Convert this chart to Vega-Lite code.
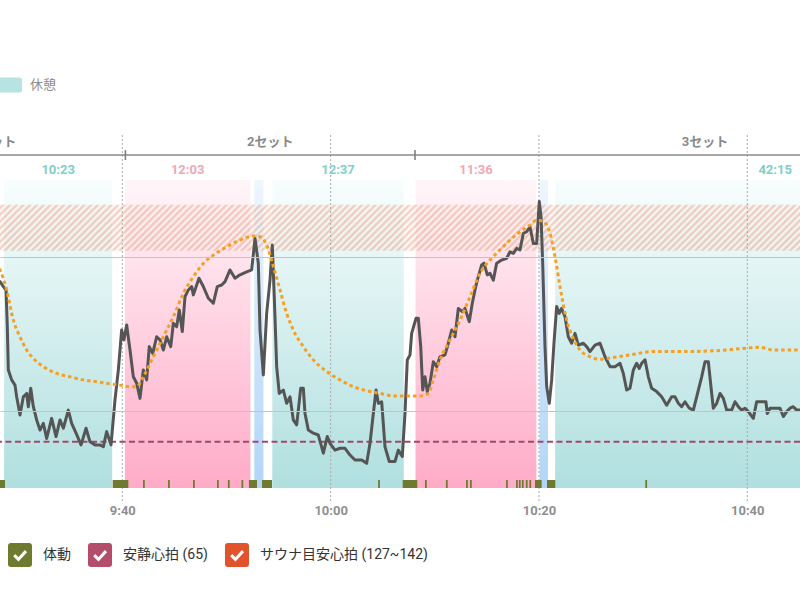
{
"$schema": "https://vega.github.io/schema/vega-lite/v6.json",
"width": 800,
"height": 308,
"autosize": {"type": "none"},
"padding": {"left": 0, "right": 0, "top": 180, "bottom": 112},
"background": "white",
"config": {
  "view": {"stroke": null},
  "font": "Roboto, 'Noto Sans CJK JP', sans-serif",
  "axisX": {"grid": false, "domain": false, "ticks": false, "labelFontSize": 13, "labelColor": "#8f8f8f", "labelFontWeight": "bold", "labelPadding": 16},
  "axisY": {"grid": true, "gridColor": "#c4c4c4", "labels": false, "ticks": false, "domain": false}
},
"datasets": {
  "phases": [
    {"phase": "休憩", "start": 568.65, "end": 579.03, "label": "10:23"},
    {"phase": "サウナ", "start": 580.25, "end": 592.3, "label": "12:03"},
    {"phase": "水風呂", "start": 592.67, "end": 593.55, "label": ""},
    {"phase": "休憩", "start": 594.4, "end": 607.02, "label": "12:37"},
    {"phase": "サウナ", "start": 608.15, "end": 619.75, "label": "11:36"},
    {"phase": "水風呂", "start": 620.05, "end": 620.87, "label": ""},
    {"phase": "休憩", "start": 621.55, "end": 663.8, "label": "42:15"}
  ],
  "sessions": [
    {"set": "1セット", "start": 554.9, "end": 580.3},
    {"set": "2セット", "start": 580.3, "end": 608.1},
    {"set": "3セット", "start": 608.1, "end": 663.8}
  ],
  "ticks": [{"t": 580}, {"t": 600}, {"t": 620}, {"t": 640}],
  "target": [{"lo": 127, "hi": 142}],
  "resting": [{"bpm": 65}],
  "movement": [
    {"start": 567.8, "end": 568.74}, {"start": 579.08, "end": 580.58}, {"start": 581.99, "end": 582.16},
    {"start": 584.39, "end": 584.56}, {"start": 586.79, "end": 586.96}, {"start": 589.09, "end": 589.26},
    {"start": 590.14, "end": 590.31}, {"start": 591.44, "end": 591.61}, {"start": 592.16, "end": 592.93},
    {"start": 593.41, "end": 594.37}, {"start": 604.56, "end": 604.73}, {"start": 606.92, "end": 608.32},
    {"start": 609.06, "end": 609.23}, {"start": 611.07, "end": 611.24}, {"start": 613.0, "end": 613.17},
    {"start": 613.38, "end": 613.55}, {"start": 616.84, "end": 617.01}, {"start": 617.8, "end": 617.97},
    {"start": 618.07, "end": 618.24}, {"start": 618.36, "end": 618.53}, {"start": 618.74, "end": 618.91},
    {"start": 619.08, "end": 619.25}, {"start": 619.62, "end": 620.26}, {"start": 620.77, "end": 621.57},
    {"start": 630.21, "end": 630.38}
  ],
  "hr": [
    {"t":567.9,"bpm":118},{"t":568.26,"bpm":117},{"t":568.58,"bpm":115.4},{"t":568.84,"bpm":114.3},{"t":568.96,"bpm":102.4},
    {"t":569.06,"bpm":88.3},{"t":569.38,"bpm":85.1},{"t":569.7,"bpm":83.4},{"t":569.86,"bpm":79.6},{"t":570.18,"bpm":73.7},
    {"t":570.5,"bpm":79.6},{"t":570.82,"bpm":80.7},{"t":570.98,"bpm":76.4},{"t":571.21,"bpm":82.4},{"t":571.46,"bpm":76.4},
    {"t":571.78,"bpm":72.1},{"t":572.1,"bpm":68.8},{"t":572.42,"bpm":71},{"t":572.74,"bpm":66.1},{"t":573.22,"bpm":72.6},
    {"t":573.64,"bpm":66.7},{"t":574.02,"bpm":72.1},{"t":574.34,"bpm":69.4},{"t":574.82,"bpm":75.3},{"t":575.14,"bpm":71},
    {"t":575.56,"bpm":67.8},{"t":576.04,"bpm":64},{"t":576.52,"bpm":69.4},{"t":576.9,"bpm":65},{"t":577.38,"bpm":64},
    {"t":577.86,"bpm":64},{"t":578.18,"bpm":63.4},{"t":578.5,"bpm":68.3},{"t":578.92,"bpm":64},{"t":579.3,"bpm":78.6},
    {"t":579.62,"bpm":88.3},{"t":579.94,"bpm":101.3},{"t":580.16,"bpm":98.1},{"t":580.42,"bpm":102.9},{"t":580.74,"bpm":94.8},
    {"t":581.06,"bpm":86.1},{"t":581.38,"bpm":84},{"t":581.7,"bpm":79.1},{"t":582.02,"bpm":88.3},{"t":582.34,"bpm":85.1},
    {"t":582.59,"bpm":95.9},{"t":582.92,"bpm":93.7},{"t":583.3,"bpm":99.1},{"t":583.62,"bpm":98.1},{"t":583.94,"bpm":94.8},
    {"t":584.26,"bpm":99.1},{"t":584.65,"bpm":95.9},{"t":584.9,"bpm":103.5},{"t":585.22,"bpm":102.4},{"t":585.47,"bpm":107.8},
    {"t":585.76,"bpm":100.8},{"t":586.02,"bpm":112.1},{"t":586.34,"bpm":114.3},{"t":586.66,"bpm":115.4},{"t":586.82,"bpm":112.7},
    {"t":587.36,"bpm":118.1},{"t":587.78,"bpm":115.4},{"t":588.26,"bpm":111.6},{"t":588.74,"bpm":110},{"t":589.12,"bpm":115.4},
    {"t":589.54,"bpm":115.9},{"t":589.86,"bpm":117},{"t":590.34,"bpm":120.8},{"t":590.82,"bpm":118.1},{"t":591.3,"bpm":119.2},
    {"t":591.94,"bpm":120.2},{"t":592.42,"bpm":120.8},{"t":592.74,"bpm":131.1},{"t":593.06,"bpm":122.9},{"t":593.22,"bpm":101.3},
    {"t":593.54,"bpm":86.7},{"t":593.86,"bpm":106.7},{"t":594.18,"bpm":117.5},{"t":594.4,"bpm":128.9},{"t":594.59,"bpm":112.1},
    {"t":594.82,"bpm":89.4},{"t":595.07,"bpm":80.7},{"t":595.46,"bpm":81.8},{"t":595.78,"bpm":77.5},{"t":596.1,"bpm":79.6},
    {"t":596.42,"bpm":72.1},{"t":596.74,"bpm":70.5},{"t":597.13,"bpm":82.4},{"t":597.38,"bpm":82.4},{"t":597.54,"bpm":74.2},
    {"t":597.86,"bpm":68.8},{"t":598.34,"bpm":67.8},{"t":598.82,"bpm":67.2},{"t":599.3,"bpm":61.3},{"t":599.68,"bpm":66.7},
    {"t":599.94,"bpm":64.5},{"t":600.42,"bpm":62.3},{"t":600.9,"bpm":62.9},{"t":601.38,"bpm":62.9},{"t":601.86,"bpm":60.7},
    {"t":602.34,"bpm":59.1},{"t":602.98,"bpm":59.1},{"t":603.46,"bpm":58},{"t":603.78,"bpm":64.5},{"t":604.1,"bpm":74.2},
    {"t":604.36,"bpm":81.8},{"t":604.58,"bpm":77.5},{"t":604.9,"bpm":78},{"t":605.22,"bpm":63.4},{"t":605.63,"bpm":58.6},
    {"t":606.18,"bpm":58.6},{"t":606.5,"bpm":62.3},{"t":606.88,"bpm":60.2},{"t":607.14,"bpm":74.2},{"t":607.36,"bpm":91.6},
    {"t":607.62,"bpm":93.2},{"t":607.78,"bpm":100.2},{"t":608.2,"bpm":105.1},{"t":608.42,"bpm":105.1},{"t":608.65,"bpm":95.9},
    {"t":608.84,"bpm":81.8},{"t":609.06,"bpm":86.1},{"t":609.28,"bpm":81.3},{"t":609.54,"bpm":84},{"t":609.86,"bpm":91},
    {"t":610.18,"bpm":89.4},{"t":610.5,"bpm":92.6},{"t":610.98,"bpm":93.2},{"t":611.3,"bpm":97},{"t":611.62,"bpm":101.3},
    {"t":611.94,"bpm":99.1},{"t":612.26,"bpm":108.3},{"t":612.68,"bpm":107.2},{"t":612.9,"bpm":108.3},{"t":613.31,"bpm":104},
    {"t":613.6,"bpm":110},{"t":613.86,"bpm":114.3},{"t":614.08,"bpm":117.5},{"t":614.5,"bpm":122.4},{"t":614.72,"bpm":123},
    {"t":615.04,"bpm":119.2},{"t":615.3,"bpm":119.7},{"t":615.62,"bpm":117.5},{"t":615.94,"bpm":123},{"t":616.42,"bpm":124},
    {"t":616.9,"bpm":124.6},{"t":617.22,"bpm":126.7},{"t":617.54,"bpm":126.2},{"t":617.86,"bpm":127.8},{"t":618.18,"bpm":127.3},
    {"t":618.5,"bpm":132.7},{"t":618.82,"bpm":133.2},{"t":619.14,"bpm":134.8},{"t":619.46,"bpm":129.4},{"t":619.78,"bpm":129.4},
    {"t":620.03,"bpm":143},{"t":620.2,"bpm":138.1},{"t":620.36,"bpm":122.9},{"t":620.58,"bpm":95.9},{"t":620.74,"bpm":83},
    {"t":620.99,"bpm":77.5},{"t":621.22,"bpm":85.1},{"t":621.44,"bpm":97},{"t":621.7,"bpm":108.9},{"t":621.95,"bpm":106.7},
    {"t":622.18,"bpm":108.3},{"t":622.5,"bpm":105.6},{"t":622.82,"bpm":99.1},{"t":623.14,"bpm":97},{"t":623.46,"bpm":100.2},
    {"t":623.78,"bpm":96.4},{"t":624.26,"bpm":97},{"t":624.58,"bpm":95.9},{"t":624.9,"bpm":94.3},{"t":625.38,"bpm":96.4},
    {"t":625.86,"bpm":97},{"t":626.34,"bpm":92.6},{"t":626.82,"bpm":89.4},{"t":627.3,"bpm":89.4},{"t":627.78,"bpm":90.5},
    {"t":628.1,"bpm":87.2},{"t":628.42,"bpm":81.8},{"t":628.74,"bpm":82.4},{"t":629.06,"bpm":88.3},{"t":629.38,"bpm":90.5},
    {"t":629.63,"bpm":88.8},{"t":629.86,"bpm":90.5},{"t":630.18,"bpm":91.6},{"t":630.5,"bpm":86.1},{"t":630.82,"bpm":82.4},
    {"t":631.3,"bpm":81.3},{"t":631.78,"bpm":79.6},{"t":632.26,"bpm":76.9},{"t":632.74,"bpm":79.6},{"t":633.06,"bpm":79.6},
    {"t":633.38,"bpm":77.5},{"t":633.7,"bpm":76.4},{"t":634.02,"bpm":78},{"t":634.43,"bpm":75.9},{"t":634.82,"bpm":75.3},
    {"t":635.14,"bpm":79.6},{"t":635.62,"bpm":86.1},{"t":635.94,"bpm":91},{"t":636.26,"bpm":91},{"t":636.58,"bpm":80.7},
    {"t":636.74,"bpm":75.9},{"t":637.06,"bpm":77.5},{"t":637.38,"bpm":80.7},{"t":637.7,"bpm":79.1},{"t":638.02,"bpm":75.3},
    {"t":638.5,"bpm":75.3},{"t":638.82,"bpm":78},{"t":639.14,"bpm":76.4},{"t":639.46,"bpm":75.3},{"t":639.78,"bpm":75.9},
    {"t":640.1,"bpm":74.8},{"t":640.58,"bpm":72.6},{"t":640.9,"bpm":78},{"t":641.38,"bpm":78},{"t":641.79,"bpm":78},
    {"t":641.92,"bpm":74.2},{"t":642.18,"bpm":75.9},{"t":642.66,"bpm":75.9},{"t":643.14,"bpm":75.9},{"t":643.46,"bpm":73.2},
    {"t":643.78,"bpm":74.8},{"t":644.1,"bpm":75.9},{"t":644.42,"bpm":76.4},{"t":644.74,"bpm":75.3},{"t":645.06,"bpm":75.3},
    {"t":645.4,"bpm":75.5}
  ],
  "smooth": [
    {"t":567.9,"bpm":123},{"t":568.26,"bpm":120.8},{"t":568.9,"bpm":114.3},{"t":569.54,"bpm":104.5},{"t":570.18,"bpm":99.1},
    {"t":570.82,"bpm":94.8},{"t":571.46,"bpm":92.1},{"t":572.42,"bpm":89.4},{"t":573.7,"bpm":87.2},{"t":574.98,"bpm":86.1},
    {"t":576.26,"bpm":85.1},{"t":577.54,"bpm":84.5},{"t":578.82,"bpm":83.8},{"t":579.78,"bpm":83.4},{"t":580.74,"bpm":82.9},
    {"t":581.38,"bpm":82.9},{"t":582.02,"bpm":86.1},{"t":582.98,"bpm":92.6},{"t":583.94,"bpm":99.1},{"t":584.9,"bpm":105.6},
    {"t":585.86,"bpm":113.2},{"t":586.82,"bpm":118.6},{"t":587.78,"bpm":122.9},{"t":588.74,"bpm":125.6},{"t":590.02,"bpm":128.3},
    {"t":591.3,"bpm":130.5},{"t":592.58,"bpm":131.8},{"t":593.22,"bpm":131.6},{"t":593.86,"bpm":128.9},{"t":594.5,"bpm":121.9},
    {"t":595.14,"bpm":114.3},{"t":595.78,"bpm":106.7},{"t":596.42,"bpm":101.3},{"t":597.38,"bpm":95.9},{"t":598.34,"bpm":91.6},
    {"t":599.62,"bpm":87.8},{"t":600.9,"bpm":85.1},{"t":602.18,"bpm":82.9},{"t":603.46,"bpm":81.6},{"t":604.74,"bpm":80.7},
    {"t":606.02,"bpm":79.9},{"t":607.3,"bpm":79.9},{"t":608.58,"bpm":79.9},{"t":609.38,"bpm":80.7},{"t":609.86,"bpm":85.1},
    {"t":610.5,"bpm":91.6},{"t":611.46,"bpm":98.1},{"t":612.42,"bpm":104.5},{"t":613.38,"bpm":112.1},{"t":614.34,"bpm":119.7},
    {"t":615.3,"bpm":124},{"t":616.26,"bpm":127.3},{"t":617.22,"bpm":130.5},{"t":618.18,"bpm":133.2},{"t":619.14,"bpm":135.4},
    {"t":619.78,"bpm":137},{"t":620.42,"bpm":136.5},{"t":621.06,"bpm":132.7},{"t":621.54,"bpm":125.1},{"t":622.02,"bpm":115.4},
    {"t":622.66,"bpm":104.5},{"t":623.3,"bpm":98.6},{"t":623.94,"bpm":94.8},{"t":624.74,"bpm":92.9},{"t":625.86,"bpm":91.8},
    {"t":627.14,"bpm":92.4},{"t":628.74,"bpm":93.2},{"t":630.98,"bpm":94.3},{"t":634.18,"bpm":94.3},{"t":637.06,"bpm":94.6},
    {"t":639.94,"bpm":95.4},{"t":641.22,"bpm":95.7},{"t":642.5,"bpm":94.8},{"t":645.06,"bpm":94.8},{"t":645.4,"bpm":94.8}
  ]
},
"layer": [
  {
    "data": {"name": "phases"},
    "transform": [{"filter": "datum.phase === '休憩'"}],
    "mark": {"type": "rect", "clip": true, "fill": {"gradient": "linear", "x1": 0, "y1": 0, "x2": 0, "y2": 1, "stops": [{"offset": 0, "color": "#f8fdfd"}, {"offset": 1, "color": "#b0dfdf"}]}},
    "encoding": {
      "x": {"field": "start", "type": "quantitative", "scale": {"domain": [568.26, 645.06], "nice": false, "zero": false}, "title": null},
      "x2": {"field": "end"}
    }
  },
  {
    "data": {"name": "phases"},
    "transform": [{"filter": "datum.phase === 'サウナ'"}],
    "mark": {"type": "rect", "clip": true, "fill": {"gradient": "linear", "x1": 0, "y1": 0, "x2": 0, "y2": 1, "stops": [{"offset": 0, "color": "#fff6f9"}, {"offset": 1, "color": "#ffabc7"}]}},
    "encoding": {
      "x": {"field": "start", "type": "quantitative", "scale": {"domain": [568.26, 645.06], "nice": false, "zero": false}, "title": null},
      "x2": {"field": "end"}
    }
  },
  {
    "data": {"name": "phases"},
    "transform": [{"filter": "datum.phase === '水風呂'"}],
    "mark": {"type": "rect", "clip": true, "fill": {"gradient": "linear", "x1": 0, "y1": 0, "x2": 0, "y2": 1, "stops": [{"offset": 0, "color": "#eef6fe"}, {"offset": 1, "color": "#b2d5f7"}]}},
    "encoding": {
      "x": {"field": "start", "type": "quantitative", "scale": {"domain": [568.26, 645.06], "nice": false, "zero": false}, "title": null},
      "x2": {"field": "end"}
    }
  },
  {
    "data": {"name": "phases"},
    "transform": [{"filter": "datum.phase === '休憩'"}],
    "mark": {"type": "rect", "clip": true},
    "encoding": {
      "x": {"field": "start", "type": "quantitative", "scale": {"domain": [568.26, 645.06], "nice": false, "zero": false}, "title": null},
      "x2": {"field": "start"},
      "fill": {"datum": "休憩", "scale": {"domain": ["休憩"], "range": ["#b5e4e2"]},
        "legend": {"title": null, "orient": "none", "legendX": -8, "legendY": -110, "direction": "horizontal", "padding": 0,
          "symbolType": "M-0.85,-0.5L0.85,-0.5Q1,-0.5,1,-0.35L1,0.35Q1,0.5,0.85,0.5L-0.85,0.5Q-1,0.5,-1,0.35L-1,-0.35Q-1,-0.5,-0.85,-0.5Z",
          "symbolSize": 900, "symbolStrokeWidth": 0, "symbolOpacity": 1, "labelFontSize": 13, "labelColor": "#8c8c8c", "labelOffset": 8}}
    }
  },
  {
    "data": {"name": "target"},
    "mark": {"type": "rect", "fill": {"gradient": "linear", "x1": 0, "y1": 0, "x2": 1.0542, "y2": 0.0609, "stops": [
      {"offset":0,"color":"rgba(255,255,255,0.45)"},{"offset":0.004,"color":"rgba(226,140,106,0.45)"},{"offset":0.008,"color":"rgba(255,255,255,0.45)"},{"offset":0.012,"color":"rgba(226,140,106,0.45)"},{"offset":0.016,"color":"rgba(255,255,255,0.45)"},{"offset":0.02,"color":"rgba(226,140,106,0.45)"},{"offset":0.024,"color":"rgba(255,255,255,0.45)"},{"offset":0.028,"color":"rgba(226,140,106,0.45)"},{"offset":0.032,"color":"rgba(255,255,255,0.45)"},{"offset":0.036,"color":"rgba(226,140,106,0.45)"},
      {"offset":0.04,"color":"rgba(255,255,255,0.45)"},{"offset":0.044,"color":"rgba(226,140,106,0.45)"},{"offset":0.048,"color":"rgba(255,255,255,0.45)"},{"offset":0.052,"color":"rgba(226,140,106,0.45)"},{"offset":0.056,"color":"rgba(255,255,255,0.45)"},{"offset":0.06,"color":"rgba(226,140,106,0.45)"},{"offset":0.064,"color":"rgba(255,255,255,0.45)"},{"offset":0.068,"color":"rgba(226,140,106,0.45)"},{"offset":0.072,"color":"rgba(255,255,255,0.45)"},{"offset":0.076,"color":"rgba(226,140,106,0.45)"},
      {"offset":0.08,"color":"rgba(255,255,255,0.45)"},{"offset":0.084,"color":"rgba(226,140,106,0.45)"},{"offset":0.088,"color":"rgba(255,255,255,0.45)"},{"offset":0.092,"color":"rgba(226,140,106,0.45)"},{"offset":0.096,"color":"rgba(255,255,255,0.45)"},{"offset":0.1,"color":"rgba(226,140,106,0.45)"},{"offset":0.104,"color":"rgba(255,255,255,0.45)"},{"offset":0.108,"color":"rgba(226,140,106,0.45)"},{"offset":0.112,"color":"rgba(255,255,255,0.45)"},{"offset":0.116,"color":"rgba(226,140,106,0.45)"},
      {"offset":0.12,"color":"rgba(255,255,255,0.45)"},{"offset":0.124,"color":"rgba(226,140,106,0.45)"},{"offset":0.128,"color":"rgba(255,255,255,0.45)"},{"offset":0.132,"color":"rgba(226,140,106,0.45)"},{"offset":0.136,"color":"rgba(255,255,255,0.45)"},{"offset":0.14,"color":"rgba(226,140,106,0.45)"},{"offset":0.144,"color":"rgba(255,255,255,0.45)"},{"offset":0.148,"color":"rgba(226,140,106,0.45)"},{"offset":0.152,"color":"rgba(255,255,255,0.45)"},{"offset":0.156,"color":"rgba(226,140,106,0.45)"},
      {"offset":0.16,"color":"rgba(255,255,255,0.45)"},{"offset":0.164,"color":"rgba(226,140,106,0.45)"},{"offset":0.168,"color":"rgba(255,255,255,0.45)"},{"offset":0.172,"color":"rgba(226,140,106,0.45)"},{"offset":0.176,"color":"rgba(255,255,255,0.45)"},{"offset":0.18,"color":"rgba(226,140,106,0.45)"},{"offset":0.184,"color":"rgba(255,255,255,0.45)"},{"offset":0.188,"color":"rgba(226,140,106,0.45)"},{"offset":0.192,"color":"rgba(255,255,255,0.45)"},{"offset":0.196,"color":"rgba(226,140,106,0.45)"},
      {"offset":0.2,"color":"rgba(255,255,255,0.45)"},{"offset":0.204,"color":"rgba(226,140,106,0.45)"},{"offset":0.208,"color":"rgba(255,255,255,0.45)"},{"offset":0.212,"color":"rgba(226,140,106,0.45)"},{"offset":0.216,"color":"rgba(255,255,255,0.45)"},{"offset":0.22,"color":"rgba(226,140,106,0.45)"},{"offset":0.224,"color":"rgba(255,255,255,0.45)"},{"offset":0.228,"color":"rgba(226,140,106,0.45)"},{"offset":0.232,"color":"rgba(255,255,255,0.45)"},{"offset":0.236,"color":"rgba(226,140,106,0.45)"},
      {"offset":0.24,"color":"rgba(255,255,255,0.45)"},{"offset":0.244,"color":"rgba(226,140,106,0.45)"},{"offset":0.248,"color":"rgba(255,255,255,0.45)"},{"offset":0.252,"color":"rgba(226,140,106,0.45)"},{"offset":0.256,"color":"rgba(255,255,255,0.45)"},{"offset":0.26,"color":"rgba(226,140,106,0.45)"},{"offset":0.264,"color":"rgba(255,255,255,0.45)"},{"offset":0.268,"color":"rgba(226,140,106,0.45)"},{"offset":0.272,"color":"rgba(255,255,255,0.45)"},{"offset":0.276,"color":"rgba(226,140,106,0.45)"},
      {"offset":0.28,"color":"rgba(255,255,255,0.45)"},{"offset":0.284,"color":"rgba(226,140,106,0.45)"},{"offset":0.288,"color":"rgba(255,255,255,0.45)"},{"offset":0.292,"color":"rgba(226,140,106,0.45)"},{"offset":0.296,"color":"rgba(255,255,255,0.45)"},{"offset":0.3,"color":"rgba(226,140,106,0.45)"},{"offset":0.304,"color":"rgba(255,255,255,0.45)"},{"offset":0.308,"color":"rgba(226,140,106,0.45)"},{"offset":0.312,"color":"rgba(255,255,255,0.45)"},{"offset":0.316,"color":"rgba(226,140,106,0.45)"},
      {"offset":0.32,"color":"rgba(255,255,255,0.45)"},{"offset":0.324,"color":"rgba(226,140,106,0.45)"},{"offset":0.328,"color":"rgba(255,255,255,0.45)"},{"offset":0.332,"color":"rgba(226,140,106,0.45)"},{"offset":0.336,"color":"rgba(255,255,255,0.45)"},{"offset":0.34,"color":"rgba(226,140,106,0.45)"},{"offset":0.344,"color":"rgba(255,255,255,0.45)"},{"offset":0.348,"color":"rgba(226,140,106,0.45)"},{"offset":0.352,"color":"rgba(255,255,255,0.45)"},{"offset":0.356,"color":"rgba(226,140,106,0.45)"},
      {"offset":0.36,"color":"rgba(255,255,255,0.45)"},{"offset":0.364,"color":"rgba(226,140,106,0.45)"},{"offset":0.368,"color":"rgba(255,255,255,0.45)"},{"offset":0.372,"color":"rgba(226,140,106,0.45)"},{"offset":0.376,"color":"rgba(255,255,255,0.45)"},{"offset":0.38,"color":"rgba(226,140,106,0.45)"},{"offset":0.384,"color":"rgba(255,255,255,0.45)"},{"offset":0.388,"color":"rgba(226,140,106,0.45)"},{"offset":0.392,"color":"rgba(255,255,255,0.45)"},{"offset":0.396,"color":"rgba(226,140,106,0.45)"},
      {"offset":0.4,"color":"rgba(255,255,255,0.45)"},{"offset":0.404,"color":"rgba(226,140,106,0.45)"},{"offset":0.408,"color":"rgba(255,255,255,0.45)"},{"offset":0.412,"color":"rgba(226,140,106,0.45)"},{"offset":0.416,"color":"rgba(255,255,255,0.45)"},{"offset":0.42,"color":"rgba(226,140,106,0.45)"},{"offset":0.424,"color":"rgba(255,255,255,0.45)"},{"offset":0.428,"color":"rgba(226,140,106,0.45)"},{"offset":0.432,"color":"rgba(255,255,255,0.45)"},{"offset":0.436,"color":"rgba(226,140,106,0.45)"},
      {"offset":0.44,"color":"rgba(255,255,255,0.45)"},{"offset":0.444,"color":"rgba(226,140,106,0.45)"},{"offset":0.448,"color":"rgba(255,255,255,0.45)"},{"offset":0.452,"color":"rgba(226,140,106,0.45)"},{"offset":0.456,"color":"rgba(255,255,255,0.45)"},{"offset":0.46,"color":"rgba(226,140,106,0.45)"},{"offset":0.464,"color":"rgba(255,255,255,0.45)"},{"offset":0.468,"color":"rgba(226,140,106,0.45)"},{"offset":0.472,"color":"rgba(255,255,255,0.45)"},{"offset":0.476,"color":"rgba(226,140,106,0.45)"},
      {"offset":0.48,"color":"rgba(255,255,255,0.45)"},{"offset":0.484,"color":"rgba(226,140,106,0.45)"},{"offset":0.488,"color":"rgba(255,255,255,0.45)"},{"offset":0.492,"color":"rgba(226,140,106,0.45)"},{"offset":0.496,"color":"rgba(255,255,255,0.45)"},{"offset":0.5,"color":"rgba(226,140,106,0.45)"},{"offset":0.504,"color":"rgba(255,255,255,0.45)"},{"offset":0.508,"color":"rgba(226,140,106,0.45)"},{"offset":0.512,"color":"rgba(255,255,255,0.45)"},{"offset":0.516,"color":"rgba(226,140,106,0.45)"},
      {"offset":0.52,"color":"rgba(255,255,255,0.45)"},{"offset":0.524,"color":"rgba(226,140,106,0.45)"},{"offset":0.528,"color":"rgba(255,255,255,0.45)"},{"offset":0.532,"color":"rgba(226,140,106,0.45)"},{"offset":0.536,"color":"rgba(255,255,255,0.45)"},{"offset":0.54,"color":"rgba(226,140,106,0.45)"},{"offset":0.544,"color":"rgba(255,255,255,0.45)"},{"offset":0.548,"color":"rgba(226,140,106,0.45)"},{"offset":0.552,"color":"rgba(255,255,255,0.45)"},{"offset":0.556,"color":"rgba(226,140,106,0.45)"},
      {"offset":0.56,"color":"rgba(255,255,255,0.45)"},{"offset":0.564,"color":"rgba(226,140,106,0.45)"},{"offset":0.568,"color":"rgba(255,255,255,0.45)"},{"offset":0.572,"color":"rgba(226,140,106,0.45)"},{"offset":0.576,"color":"rgba(255,255,255,0.45)"},{"offset":0.58,"color":"rgba(226,140,106,0.45)"},{"offset":0.584,"color":"rgba(255,255,255,0.45)"},{"offset":0.588,"color":"rgba(226,140,106,0.45)"},{"offset":0.592,"color":"rgba(255,255,255,0.45)"},{"offset":0.596,"color":"rgba(226,140,106,0.45)"},
      {"offset":0.6,"color":"rgba(255,255,255,0.45)"},{"offset":0.604,"color":"rgba(226,140,106,0.45)"},{"offset":0.608,"color":"rgba(255,255,255,0.45)"},{"offset":0.612,"color":"rgba(226,140,106,0.45)"},{"offset":0.616,"color":"rgba(255,255,255,0.45)"},{"offset":0.62,"color":"rgba(226,140,106,0.45)"},{"offset":0.624,"color":"rgba(255,255,255,0.45)"},{"offset":0.628,"color":"rgba(226,140,106,0.45)"},{"offset":0.632,"color":"rgba(255,255,255,0.45)"},{"offset":0.636,"color":"rgba(226,140,106,0.45)"},
      {"offset":0.64,"color":"rgba(255,255,255,0.45)"},{"offset":0.644,"color":"rgba(226,140,106,0.45)"},{"offset":0.648,"color":"rgba(255,255,255,0.45)"},{"offset":0.652,"color":"rgba(226,140,106,0.45)"},{"offset":0.656,"color":"rgba(255,255,255,0.45)"},{"offset":0.66,"color":"rgba(226,140,106,0.45)"},{"offset":0.664,"color":"rgba(255,255,255,0.45)"},{"offset":0.668,"color":"rgba(226,140,106,0.45)"},{"offset":0.672,"color":"rgba(255,255,255,0.45)"},{"offset":0.676,"color":"rgba(226,140,106,0.45)"},
      {"offset":0.68,"color":"rgba(255,255,255,0.45)"},{"offset":0.684,"color":"rgba(226,140,106,0.45)"},{"offset":0.688,"color":"rgba(255,255,255,0.45)"},{"offset":0.692,"color":"rgba(226,140,106,0.45)"},{"offset":0.696,"color":"rgba(255,255,255,0.45)"},{"offset":0.7,"color":"rgba(226,140,106,0.45)"},{"offset":0.704,"color":"rgba(255,255,255,0.45)"},{"offset":0.708,"color":"rgba(226,140,106,0.45)"},{"offset":0.712,"color":"rgba(255,255,255,0.45)"},{"offset":0.716,"color":"rgba(226,140,106,0.45)"},
      {"offset":0.72,"color":"rgba(255,255,255,0.45)"},{"offset":0.724,"color":"rgba(226,140,106,0.45)"},{"offset":0.728,"color":"rgba(255,255,255,0.45)"},{"offset":0.732,"color":"rgba(226,140,106,0.45)"},{"offset":0.736,"color":"rgba(255,255,255,0.45)"},{"offset":0.74,"color":"rgba(226,140,106,0.45)"},{"offset":0.744,"color":"rgba(255,255,255,0.45)"},{"offset":0.748,"color":"rgba(226,140,106,0.45)"},{"offset":0.752,"color":"rgba(255,255,255,0.45)"},{"offset":0.756,"color":"rgba(226,140,106,0.45)"},
      {"offset":0.76,"color":"rgba(255,255,255,0.45)"},{"offset":0.764,"color":"rgba(226,140,106,0.45)"},{"offset":0.768,"color":"rgba(255,255,255,0.45)"},{"offset":0.772,"color":"rgba(226,140,106,0.45)"},{"offset":0.776,"color":"rgba(255,255,255,0.45)"},{"offset":0.78,"color":"rgba(226,140,106,0.45)"},{"offset":0.784,"color":"rgba(255,255,255,0.45)"},{"offset":0.788,"color":"rgba(226,140,106,0.45)"},{"offset":0.792,"color":"rgba(255,255,255,0.45)"},{"offset":0.796,"color":"rgba(226,140,106,0.45)"},
      {"offset":0.8,"color":"rgba(255,255,255,0.45)"},{"offset":0.804,"color":"rgba(226,140,106,0.45)"},{"offset":0.808,"color":"rgba(255,255,255,0.45)"},{"offset":0.812,"color":"rgba(226,140,106,0.45)"},{"offset":0.816,"color":"rgba(255,255,255,0.45)"},{"offset":0.82,"color":"rgba(226,140,106,0.45)"},{"offset":0.824,"color":"rgba(255,255,255,0.45)"},{"offset":0.828,"color":"rgba(226,140,106,0.45)"},{"offset":0.832,"color":"rgba(255,255,255,0.45)"},{"offset":0.836,"color":"rgba(226,140,106,0.45)"},
      {"offset":0.84,"color":"rgba(255,255,255,0.45)"},{"offset":0.844,"color":"rgba(226,140,106,0.45)"},{"offset":0.848,"color":"rgba(255,255,255,0.45)"},{"offset":0.852,"color":"rgba(226,140,106,0.45)"},{"offset":0.856,"color":"rgba(255,255,255,0.45)"},{"offset":0.86,"color":"rgba(226,140,106,0.45)"},{"offset":0.864,"color":"rgba(255,255,255,0.45)"},{"offset":0.868,"color":"rgba(226,140,106,0.45)"},{"offset":0.872,"color":"rgba(255,255,255,0.45)"},{"offset":0.876,"color":"rgba(226,140,106,0.45)"},
      {"offset":0.88,"color":"rgba(255,255,255,0.45)"},{"offset":0.884,"color":"rgba(226,140,106,0.45)"},{"offset":0.888,"color":"rgba(255,255,255,0.45)"},{"offset":0.892,"color":"rgba(226,140,106,0.45)"},{"offset":0.896,"color":"rgba(255,255,255,0.45)"},{"offset":0.9,"color":"rgba(226,140,106,0.45)"},{"offset":0.904,"color":"rgba(255,255,255,0.45)"},{"offset":0.908,"color":"rgba(226,140,106,0.45)"},{"offset":0.912,"color":"rgba(255,255,255,0.45)"},{"offset":0.916,"color":"rgba(226,140,106,0.45)"},
      {"offset":0.92,"color":"rgba(255,255,255,0.45)"},{"offset":0.924,"color":"rgba(226,140,106,0.45)"},{"offset":0.928,"color":"rgba(255,255,255,0.45)"},{"offset":0.932,"color":"rgba(226,140,106,0.45)"},{"offset":0.936,"color":"rgba(255,255,255,0.45)"},{"offset":0.94,"color":"rgba(226,140,106,0.45)"},{"offset":0.944,"color":"rgba(255,255,255,0.45)"},{"offset":0.948,"color":"rgba(226,140,106,0.45)"},{"offset":0.952,"color":"rgba(255,255,255,0.45)"},{"offset":0.956,"color":"rgba(226,140,106,0.45)"},
      {"offset":0.96,"color":"rgba(255,255,255,0.45)"},{"offset":0.964,"color":"rgba(226,140,106,0.45)"},{"offset":0.968,"color":"rgba(255,255,255,0.45)"},{"offset":0.972,"color":"rgba(226,140,106,0.45)"},{"offset":0.976,"color":"rgba(255,255,255,0.45)"},{"offset":0.98,"color":"rgba(226,140,106,0.45)"},{"offset":0.984,"color":"rgba(255,255,255,0.45)"},{"offset":0.988,"color":"rgba(226,140,106,0.45)"},{"offset":0.992,"color":"rgba(255,255,255,0.45)"},{"offset":0.996,"color":"rgba(226,140,106,0.45)"},
      {"offset":1,"color":"rgba(255,255,255,0.45)"}
    ]}},
    "encoding": {
      "y": {"field": "lo", "type": "quantitative", "scale": {"domain": [50, 150], "nice": false, "zero": false}, "title": null},
      "y2": {"field": "hi"}
    }
  },
  {
    "data": {"name": "ticks"},
    "mark": {"type": "rule", "color": "#aaaaaa", "strokeWidth": 1, "strokeDash": [2, 2]},
    "encoding": {
      "x": {"field": "t", "type": "quantitative", "scale": {"domain": [568.26, 645.06], "nice": false, "zero": false}, "title": null},
      "y": {"datum": 164.6, "type": "quantitative", "scale": {"domain": [50, 150], "nice": false, "zero": false}, "title": null},
      "y2": {"datum": 45.1}
    }
  },
  {
    "data": {"name": "resting"},
    "mark": {"type": "rule", "color": "#a04a6a", "strokeWidth": 2, "strokeDash": [6, 3.5]},
    "encoding": {
      "y": {"field": "bpm", "type": "quantitative", "scale": {"domain": [50, 150], "nice": false, "zero": false}, "title": null}
    }
  },
  {
    "data": {"name": "movement"},
    "mark": {"type": "rect", "clip": true},
    "encoding": {
      "x": {"field": "start", "type": "quantitative", "scale": {"domain": [568.26, 645.06], "nice": false, "zero": false}, "title": null},
      "x2": {"field": "end"},
      "y": {"datum": 50, "type": "quantitative", "scale": {"domain": [50, 150], "nice": false, "zero": false}, "title": null},
      "y2": {"datum": 52.6},
      "color": {"datum": "体動", "type": "nominal",
        "scale": {"domain": ["体動", "安静心拍 (65)", "サウナ目安心拍 (127~142)"], "range": ["#6e7a30", "#b44c6c", "#e0532b"]},
        "legend": {"title": null, "orient": "none", "legendX": 8, "legendY": 363, "direction": "horizontal", "padding": 0,
          "symbolType": "M-0.75,-1L0.75,-1Q1,-1,1,-0.75L1,0.75Q1,1,0.75,1L-0.75,1Q-1,1,-1,0.75L-1,-0.75Q-1,-1,-0.75,-1ZM-0.571,0.113L-0.126,0.541L0.595,-0.232L0.405,-0.408L-0.134,0.179L-0.389,-0.073Z",
          "symbolSize": 576, "symbolStrokeWidth": 0, "symbolOpacity": 1, "labelFontSize": 14, "labelColor": "#333333", "labelOffset": 11, "columnPadding": 17, "labelLimit": 400}}
    }
  },
  {
    "data": {"name": "hr"},
    "mark": {"type": "line", "clip": true, "color": "#555555", "strokeWidth": 3, "strokeJoin": "round"},
    "encoding": {
      "x": {"field": "t", "type": "quantitative", "scale": {"domain": [568.26, 645.06], "nice": false, "zero": false}, "title": null,
        "axis": {"values": [580, 600, 620, 640], "labelExpr": "floor(datum.value/60) + ':' + (datum.value % 60 < 10 ? '0' : '') + (datum.value % 60)"}},
      "y": {"field": "bpm", "type": "quantitative", "scale": {"domain": [50, 150], "nice": false, "zero": false}, "title": null,
        "axis": {"values": [75, 125], "zindex": 1}}
    }
  },
  {
    "data": {"name": "smooth"},
    "mark": {"type": "line", "clip": true, "color": "#f5a023", "strokeWidth": 3, "strokeDash": [3.5, 3], "interpolate": "monotone"},
    "encoding": {
      "x": {"field": "t", "type": "quantitative", "scale": {"domain": [568.26, 645.06], "nice": false, "zero": false}, "title": null},
      "y": {"field": "bpm", "type": "quantitative", "scale": {"domain": [50, 150], "nice": false, "zero": false}, "title": null}
    }
  },
  {
    "data": {"name": "phases"},
    "transform": [{"filter": "datum.label !== ''"}, {"calculate": "(datum.start + datum.end) / 2", "as": "mid"}],
    "mark": {"type": "text", "fontSize": 13, "fontWeight": "bold", "baseline": "middle"},
    "encoding": {
      "x": {"field": "mid", "type": "quantitative", "scale": {"domain": [568.26, 645.06], "nice": false, "zero": false}, "title": null},
      "y": {"datum": 153.3, "type": "quantitative", "scale": {"domain": [50, 150], "nice": false, "zero": false}, "title": null},
      "text": {"field": "label"},
      "color": {"condition": {"test": "datum.phase === '休憩'", "value": "#7fcfcb"}, "value": "#f0a8b5"}
    }
  },
  {
    "data": {"name": "sessions"},
    "mark": {"type": "rule", "color": "#8a8a8a", "strokeWidth": 1.5},
    "encoding": {
      "x": {"field": "start", "type": "quantitative", "scale": {"domain": [568.26, 645.06], "nice": false, "zero": false}, "title": null},
      "x2": {"field": "end"},
      "y": {"datum": 158.1, "type": "quantitative", "scale": {"domain": [50, 150], "nice": false, "zero": false}, "title": null}
    }
  },
  {
    "data": {"name": "sessions"},
    "mark": {"type": "rule", "color": "#7a7a7a", "strokeWidth": 1.5},
    "encoding": {
      "x": {"field": "start", "type": "quantitative", "scale": {"domain": [568.26, 645.06], "nice": false, "zero": false}, "title": null},
      "y": {"datum": 159.7, "type": "quantitative", "scale": {"domain": [50, 150], "nice": false, "zero": false}, "title": null},
      "y2": {"datum": 156.5}
    }
  },
  {
    "data": {"name": "sessions"},
    "transform": [{"calculate": "(datum.start + datum.end) / 2", "as": "mid"}],
    "mark": {"type": "text", "fontSize": 13, "fontWeight": "bold", "baseline": "middle", "color": "#8a8a8a"},
    "encoding": {
      "x": {"field": "mid", "type": "quantitative", "scale": {"domain": [568.26, 645.06], "nice": false, "zero": false}, "title": null},
      "y": {"datum": 162.3, "type": "quantitative", "scale": {"domain": [50, 150], "nice": false, "zero": false}, "title": null},
      "text": {"field": "set"}
    }
  }
]
}
